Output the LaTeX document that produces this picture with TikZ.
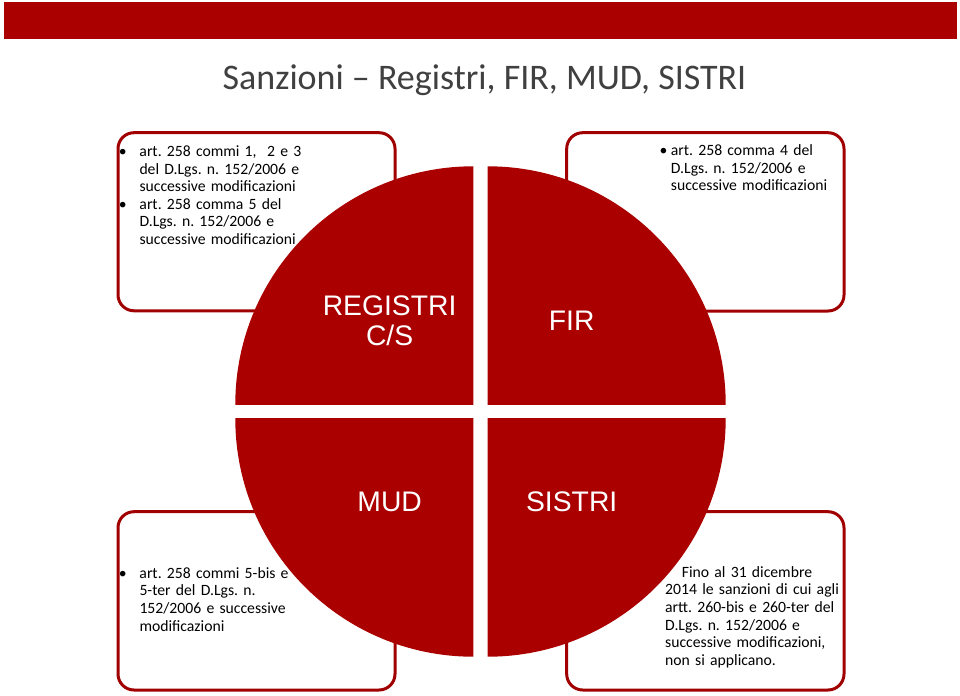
\documentclass[tikz,border=0pt]{standalone}
\usepackage{fontspec}
\setmainfont{Carlito}
\newfontfamily\arialf{Liberation Sans}
\definecolor{mainred}{RGB}{170,0,0}
\definecolor{boxred}{RGB}{160,0,0}
\definecolor{titlegray}{RGB}{64,64,64}
\newcommand{\bul}[1]{\makebox[#1][l]{\makebox[0pt][c]{•}}}
\begin{document}
\frenchspacing
\begin{tikzpicture}[x=1bp,y=-1bp,
  boxframe/.style={draw=boxred, line width=3bp, rounded corners=16bp, fill=white},
  boxtext/.style={anchor=base west, inner sep=0pt, text width=240bp, align=left,
    font=\fontsize{15.7bp}{17.6bp}\selectfont\frenchspacing, text=black},
  quadlabel/.style={anchor=base, inner sep=0pt, text=white,
    font=\arialf\fontsize{28.3bp}{30bp}\selectfont},
]
\useasboundingbox (0,0) rectangle (960,696);
% top bar
\fill[mainred] (4,2) rectangle (957,39);
% title
\node[anchor=base, inner sep=0pt, text=titlegray, font=\fontsize{36bp}{40bp}\selectfont]
  (title) at (484.5,90) {Sanzioni – Registri, FIR, MUD, SISTRI};
% frames
\draw[boxframe] (118,132.7) rectangle (395,310.8);
\draw[boxframe] (566.7,132.7) rectangle (844,311);
\draw[boxframe] (118,511.7) rectangle (395,690);
\draw[boxframe] (566.7,511.7) rectangle (844,690);
% quadrants
\begin{scope}
  \clip (235.3,166.3) rectangle (473.3,404.3);
  \fill[mainred] (473.3,404.3) circle[radius=238];
\end{scope}
\begin{scope}
  \clip (487.7,166.3) rectangle (725.7,404.3);
  \fill[mainred] (487.7,404.3) circle[radius=238];
\end{scope}
\begin{scope}
  \clip (235.3,418.7) rectangle (473.3,656.7);
  \fill[mainred] (473.3,418.7) circle[radius=238];
\end{scope}
\begin{scope}
  \clip (487.7,418.7) rectangle (725.7,656.7);
  \fill[mainred] (487.7,418.7) circle[radius=238];
\end{scope}
% quadrant labels
\node[quadlabel] (reg1) at (389.6,315) {REGISTRI};
\node[quadlabel] (reg2) at (389.6,345) {C/S};
\node[quadlabel] (fir) at (571.7,330) {FIR};
\node[quadlabel] (mud) at (389.7,511.7) {MUD};
\node[quadlabel] (sistri) at (571.7,511.7) {SISTRI};
% box texts
\node[boxtext] (tltext) at (122.7,156.5) {%
  \bul{16.6bp}art. 258 commi 1,~\ 2 e 3\\
  \hspace*{16.6bp}del D.Lgs. n. 152/2006 e\\
  \hspace*{16.6bp}successive modificazioni\\
  \bul{16.6bp}art. 258 comma 5 del\\
  \hspace*{16.6bp}D.Lgs. n. 152/2006 e\\
  \hspace*{16.6bp}successive modificazioni};
\node[boxtext] (trtext) at (663.3,155.5) {%
  \bul{7.4bp}art. 258 comma 4 del\\
  \hspace*{7.4bp}D.Lgs. n. 152/2006 e\\
  \hspace*{7.4bp}successive modificazioni};
\node[boxtext] (bltext) at (122.7,578.3) {%
  \bul{16.6bp}art. 258 commi 5-bis e\\
  \hspace*{16.6bp}5-ter del D.Lgs. n.\\
  \hspace*{16.6bp}152/2006 e successive\\
  \hspace*{16.6bp}modificazioni};
\node[boxtext] (brtext) at (665,577.3) {%
  \hspace*{16.7bp}Fino al 31 dicembre\\
  2014 le sanzioni di cui agli\\
  artt. 260-bis e 260-ter del\\
  D.Lgs. n. 152/2006 e\\
  successive modificazioni,\\
  non si applicano.};
\end{tikzpicture}
\end{document}
